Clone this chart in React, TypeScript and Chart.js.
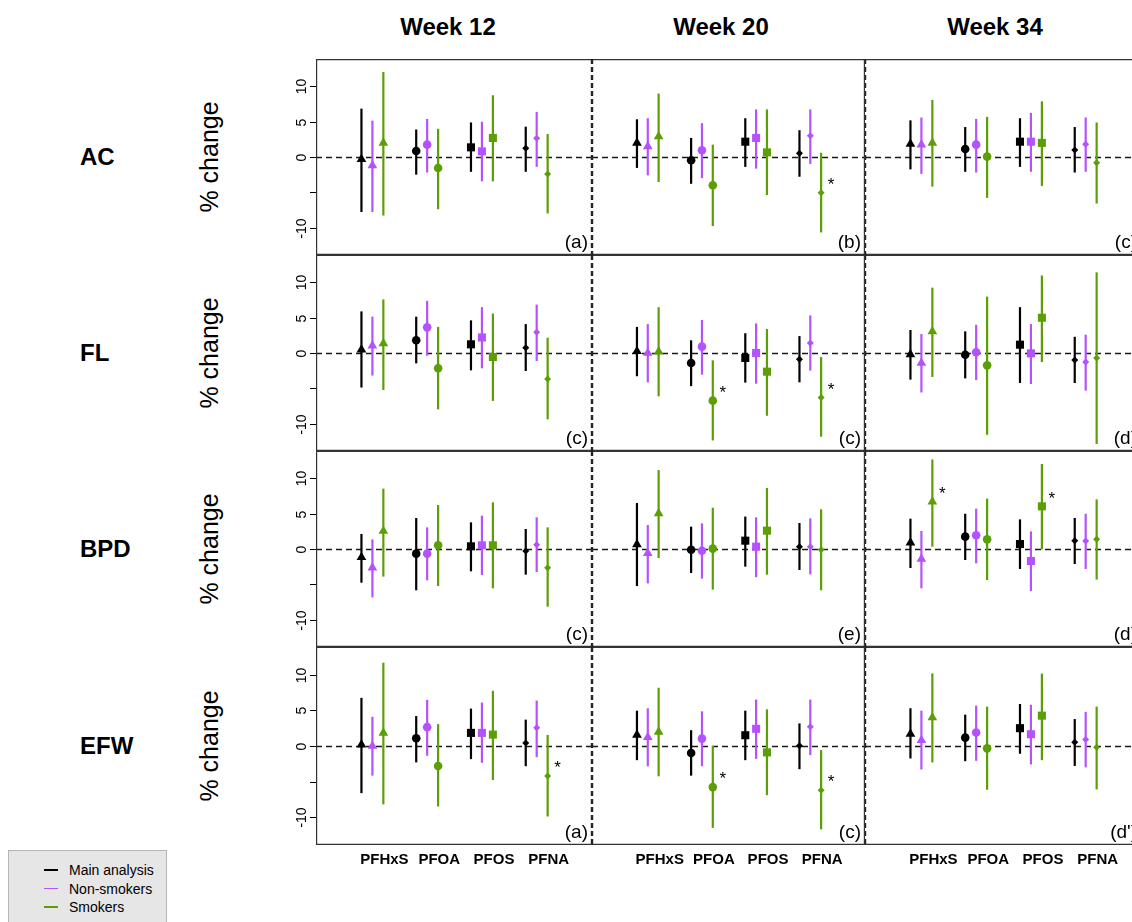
import React, { useEffect, useRef } from "react";
import { Chart, registerables } from "chart.js";

Chart.register(...registerables);

const FONT = '"Liberation Sans", Arial, Helvetica, sans-serif';
Chart.defaults.font.family = FONT;

// ---------------- data ----------------
const weeks = ["Week 12", "Week 20", "Week 34"];
const outcomes = ["AC", "FL", "BPD", "EFW"];
const compounds = ["PFHxS", "PFOA", "PFOS", "PFNA"];
const groupNames = ["Main analysis", "Non-smokers", "Smokers"];
const groupColors = ["#000000", "#b452ff", "#5c9e06"];
const yTickValues = [-10, -5, 0, 5, 10];
const yTickLabels = ["-10", "", "0", "5", "10"];

// [estimate, lower, upper] per compound (PFHxS, PFOA, PFOS, PFNA); one row per week
const AC_main = [
  [[-0.3, -7.8, 6.86], [0.85, -2.5, 3.9], [1.37, -2.1, 4.9], [1.23, -2.1, 4.3]],
  [[2.0, -1.55, 5.35], [-0.47, -3.8, 2.7], [2.17, -1.4, 5.5], [0.52, -2.8, 3.8]],
  [[1.85, -1.75, 5.2], [1.13, -2.1, 4.25], [2.17, -1.4, 5.5], [1.0, -2.2, 4.25]],
];
const AC_nonsmokers = [
  [[-1.2, -7.8, 5.15], [1.75, -2.2, 5.4], [0.8, -3.45, 5.0], [2.65, -1.4, 6.4]],
  [[1.5, -2.6, 5.5], [0.95, -3.0, 4.8], [2.7, -1.65, 6.75], [3.0, -1.0, 6.75]],
  [[1.75, -2.4, 5.6], [1.75, -2.2, 5.4], [2.17, -2.1, 6.25], [1.8, -2.1, 5.6]],
];
const AC_smokers = [
  [[2.0, -8.3, 12.06], [-1.55, -7.4, 4.0], [2.7, -3.45, 8.75], [-2.4, -8.0, 3.26]],
  [[2.9, -3.55, 9.0], [-4.0, -9.8, 1.75], [0.66, -5.4, 6.75], [-5.06, -10.7, 0.6]],
  [[2.0, -4.2, 8.1], [0.05, -5.8, 5.7], [2.0, -4.1, 7.9], [-0.8, -6.6, 4.9]],
];
const AC_sig = [[0, 0, 0, 0], [0, 0, 0, 1], [0, 0, 0, 0]];

const FL_main = [
  [[0.47, -4.9, 5.9], [1.8, -1.47, 5.15], [1.23, -2.46, 4.63], [0.76, -2.55, 4.1]],
  [[0.24, -3.3, 3.7], [-1.42, -4.7, 1.8], [-0.7, -4.2, 2.8], [-0.9, -4.16, 2.4]],
  [[-0.19, -3.78, 3.26], [-0.24, -3.6, 3.07], [1.18, -4.26, 6.5], [-1.0, -4.26, 2.3]],
];
const FL_nonsmokers = [
  [[1.04, -3.2, 5.15], [3.64, -0.38, 7.4], [2.2, -2.17, 6.5], [2.93, -1.13, 6.86]],
  [[0.0, -4.16, 4.1], [0.9, -3.07, 4.68], [0.0, -4.35, 4.2], [1.42, -2.5, 5.34]],
  [[-1.42, -5.6, 2.7], [0.1, -3.83, 4.0], [-0.05, -4.4, 4.1], [-1.28, -5.34, 2.6]],
];
const FL_smokers = [
  [[1.37, -5.25, 7.6], [-2.17, -8.0, 3.7], [-0.57, -6.8, 5.6], [-3.7, -9.4, 2.17]],
  [[0.19, -6.15, 6.5], [-6.76, -12.4, -1.04], [-2.65, -8.9, 3.4], [-6.3, -11.87, -0.57]],
  [[3.07, -3.4, 9.27], [-1.75, -11.6, 8.0], [5.0, -1.28, 11.0], [-0.7, -12.9, 11.44]],
];
const FL_sig = [[0, 0, 0, 0], [0, 1, 0, 1], [0, 0, 0, 0]];

const BPD_main = [
  [[-1.18, -4.78, 2.13], [-0.66, -5.86, 4.4], [0.38, -3.17, 3.78], [-0.28, -3.64, 2.84]],
  [[0.66, -5.25, 6.52], [-0.1, -3.4, 3.17], [1.18, -2.5, 4.6], [0.33, -2.98, 3.69]],
  [[0.9, -2.7, 4.3], [1.75, -1.56, 5.0], [0.7, -2.84, 4.2], [1.18, -2.13, 4.4]],
];
const BPD_nonsmokers = [
  [[-2.65, -6.86, 1.37], [-0.66, -4.44, 3.07], [0.52, -3.7, 4.73], [0.61, -3.26, 4.5]],
  [[-0.61, -4.87, 3.4], [-0.24, -4.2, 3.64], [0.33, -4.0, 4.5], [0.33, -3.6, 4.35]],
  [[-1.42, -5.58, 2.55], [1.94, -2.03, 5.72], [-1.7, -5.96, 2.5], [1.13, -2.84, 5.0]],
];
const BPD_smokers = [
  [[2.55, -3.92, 8.56], [0.52, -5.25, 6.24], [0.52, -5.58, 6.62], [-2.65, -8.18, 3.07]],
  [[5.06, -1.28, 11.2], [0.05, -5.77, 5.86], [2.6, -3.64, 8.65], [-0.1, -5.86, 5.63]],
  [[6.7, 0.33, 12.7], [1.37, -4.4, 7.14], [6.05, -0.05, 12.06], [1.37, -4.35, 7.04]],
];
const BPD_sig = [[0, 0, 0, 0], [0, 0, 0, 0], [1, 0, 1, 0]];

const EFW_main = [
  [[0.19, -6.62, 6.76], [1.09, -2.3, 4.2], [1.84, -1.84, 5.25], [0.43, -2.84, 3.7]],
  [[1.56, -1.99, 4.96], [-0.99, -4.16, 2.22], [1.51, -1.99, 4.96], [0.05, -3.26, 3.17]],
  [[1.7, -1.75, 5.3], [1.18, -2.13, 4.4], [2.5, -1.09, 5.9], [0.52, -2.8, 3.78]],
];
const EFW_nonsmokers = [
  [[0.0, -4.16, 4.1], [2.65, -1.37, 6.48], [1.84, -2.36, 6.1], [2.55, -1.56, 6.38]],
  [[1.23, -2.84, 5.3], [1.04, -2.84, 4.87], [2.41, -1.8, 6.52], [2.7, -1.28, 6.52]],
  [[0.8, -3.3, 4.96], [1.89, -2.08, 5.67], [1.65, -2.6, 5.8], [0.9, -3.0, 4.8]],
];
const EFW_smokers = [
  [[1.84, -8.2, 11.7], [-2.8, -8.5, 3.07], [1.6, -4.78, 7.75], [-4.2, -9.9, 1.56]],
  [[1.99, -4.26, 8.18], [-5.77, -11.5, 0.0], [-0.9, -6.9, 5.15], [-6.2, -11.7, -0.57]],
  [[4.0, -2.3, 10.2], [-0.33, -6.15, 5.53], [4.26, -1.99, 10.17], [-0.19, -6.1, 5.53]],
];
const EFW_sig = [[0, 0, 0, 1], [0, 1, 0, 1], [0, 0, 0, 0]];

const panelTags = [
  ["(a)", "(b)", "(c)"],
  ["(c)", "(c)", "(d)"],
  ["(c)", "(e)", "(d)"],
  ["(a)", "(c)", "(d')"],
];

const outcomeData = [
  [AC_main, AC_nonsmokers, AC_smokers],
  [FL_main, FL_nonsmokers, FL_smokers],
  [BPD_main, BPD_nonsmokers, BPD_smokers],
  [EFW_main, EFW_nonsmokers, EFW_smokers],
];
const outcomeSig = [AC_sig, FL_sig, BPD_sig, EFW_sig];

// ---------------- layout / style ----------------
const colEdges = [316, 592, 865, 1141];
const rowEdges = [59, 255, 451, 647, 845];
const titleX = [448, 721, 995];
const groupOffsets = [-0.2, 0, 0.2];
const labelOffset = 0.22;
const markerStyles = ["triangle", "circle", "rect", "rectRot"];
const markerRadii = [5.6, 4.3, 5.7, 3.5];
const X_MIN = -0.03;
const X_MAX = 5.01;
const Y_MIN = -13.9;
const Y_MAX = 13.9;
const LEFT_PAD = 44;
const BOTTOM_PAD = 32;

function makeDecor(r: number, c: number) {
  const smokers = outcomeData[r][2][c];
  const sig = outcomeSig[r][c];
  return {
    id: "decor",
    beforeDatasetsDraw(chart: any) {
      const { ctx, chartArea: a, scales } = chart;
      const y0 = Math.round(scales.y.getPixelForValue(0)) + 0.5;
      ctx.save();
      ctx.strokeStyle = "#1a1a1a";
      ctx.lineWidth = 1.3;
      ctx.setLineDash([6, 4]);
      ctx.beginPath();
      ctx.moveTo(a.left, y0);
      ctx.lineTo(a.right, y0);
      ctx.stroke();
      ctx.restore();
    },
    afterDatasetsDraw(chart: any) {
      const { ctx, chartArea: a, scales } = chart;
      const xs = scales.x;
      const ys = scales.y;
      ctx.save();
      // frame
      ctx.strokeStyle = "#333333";
      ctx.lineWidth = 1.2;
      ctx.setLineDash([]);
      ctx.beginPath();
      if (r === 0) {
        ctx.moveTo(a.left, a.top + 0.6);
        ctx.lineTo(a.right, a.top + 0.6);
      } else {
        ctx.moveTo(a.left, a.top + 0.3);
        ctx.lineTo(a.right, a.top + 0.3);
      }
      ctx.moveTo(a.left, a.bottom - 0.6);
      ctx.lineTo(a.right, a.bottom - 0.6);
      if (c === 0) {
        ctx.moveTo(a.left + 0.6, a.top);
        ctx.lineTo(a.left + 0.6, a.bottom);
      }
      if (c === 1) {
        ctx.moveTo(a.right - 0.6, a.top);
        ctx.lineTo(a.right - 0.6, a.bottom);
      }
      ctx.stroke();
      ctx.strokeStyle = "#222222";
      ctx.setLineDash([5, 3]);
      ctx.beginPath();
      if (c > 0) {
        ctx.moveTo(a.left + 0.6, a.top);
        ctx.lineTo(a.left + 0.6, a.bottom);
      }
      if (c === 0) {
        ctx.moveTo(a.right - 0.6, a.top);
        ctx.lineTo(a.right - 0.6, a.bottom);
      }
      ctx.stroke();
      ctx.setLineDash([]);

      // significance asterisks (smokers)
      ctx.fillStyle = "#000";
      ctx.font = `17px ${FONT}`;
      ctx.textAlign = "center";
      ctx.textBaseline = "alphabetic";
      sig.forEach((s: number, k: number) => {
        if (!s) return;
        const px = xs.getPixelForValue(k + 1 + groupOffsets[2]);
        const py = ys.getPixelForValue(smokers[k][0]);
        ctx.fillText("*", px + 10, py - 12.5 + 9.8);
      });

      // panel tag
      ctx.font = `19px ${FONT}`;
      ctx.textAlign = "right";
      ctx.fillText(panelTags[r][c], a.right - 4, a.bottom - 7);

      // y axis ticks (left column)
      if (c === 0) {
        ctx.strokeStyle = "#000";
        ctx.lineWidth = 1;
        ctx.font = `14px ${FONT}`;
        ctx.textAlign = "center";
        ctx.textBaseline = "alphabetic";
        yTickValues.forEach((v, i) => {
          const py = Math.round(ys.getPixelForValue(v)) + 0.5;
          ctx.beginPath();
          ctx.moveTo(a.left - 6, py);
          ctx.lineTo(a.left, py);
          ctx.stroke();
          const lab = yTickLabels[i];
          if (lab) {
            ctx.save();
            ctx.translate(a.left - 10, py);
            ctx.rotate(-Math.PI / 2);
            ctx.fillText(lab, 0, 0);
            ctx.restore();
          }
        });
      }

      // x labels (bottom row)
      if (r === outcomes.length - 1) {
        ctx.font = `bold 15px ${FONT}`;
        ctx.textAlign = "center";
        ctx.textBaseline = "middle";
        compounds.forEach((name, k) => {
          const px = xs.getPixelForValue(k + 1 + labelOffset);
          ctx.fillText(name, px, a.bottom + 15);
        });
      }
      ctx.restore();
    },
  };
}

function Panel({ r, c }: { r: number; c: number }) {
  const ref = useRef<HTMLCanvasElement>(null);
  const padL = c === 0 ? LEFT_PAD : 0;
  const padB = r === outcomes.length - 1 ? BOTTOM_PAD : 0;
  const left = colEdges[c] - padL;
  const top = rowEdges[r];
  const width = colEdges[c + 1] - colEdges[c] + padL;
  const height = rowEdges[r + 1] - rowEdges[r] + padB;

  useEffect(() => {
    if (!ref.current) return;
    const groups = outcomeData[r];
    const datasets: any[] = [];
    groups.forEach((g, gi) => {
      datasets.push({
        type: "bar",
        label: groupNames[gi] + " CI",
        data: g[c].map((v, k) => ({ x: k + 1 + groupOffsets[gi], y: [v[1], v[2]] })),
        backgroundColor: groupColors[gi],
        borderWidth: 0,
        grouped: false,
        maxBarThickness: 2.2,
        order: 2,
      });
    });
    groups.forEach((g, gi) => {
      datasets.push({
        type: "scatter",
        label: groupNames[gi],
        data: g[c].map((v, k) => ({ x: k + 1 + groupOffsets[gi], y: v[0] })),
        pointStyle: markerStyles,
        pointRadius: markerRadii,
        pointBackgroundColor: groupColors[gi],
        pointBorderColor: groupColors[gi],
        pointBorderWidth: 0,
        showLine: false,
        order: 1,
      });
    });
    const chart = new Chart(ref.current, {
      type: "bar",
      data: { datasets },
      options: {
        animation: false,
        responsive: false,
        devicePixelRatio: 1,
        events: [],
        layout: { autoPadding: false, padding: { left: padL, right: 0, top: 0, bottom: padB } },
        plugins: { legend: { display: false }, tooltip: { enabled: false } },
        scales: {
          x: { type: "linear", display: false, min: X_MIN, max: X_MAX, offset: false },
          y: { type: "linear", display: false, min: Y_MIN, max: Y_MAX },
        },
      } as any,
      plugins: [makeDecor(r, c)],
    });
    return () => chart.destroy();
  }, [r, c]);

  return (
    <canvas
      ref={ref}
      width={width}
      height={height}
      style={{ position: "absolute", left, top, width, height }}
    />
  );
}

export default function App() {
  const panels: JSX.Element[] = [];
  outcomes.forEach((_, r) => {
    weeks.forEach((__, c) => {
      panels.push(<Panel key={`${r}-${c}`} r={r} c={c} />);
    });
  });
  return (
    <div
      style={{
        position: "fixed",
        left: 0,
        top: 0,
        width: 1132,
        height: 922,
        overflow: "hidden",
        background: "#ffffff",
        fontFamily: FONT,
        color: "#000",
      }}
    >
      {weeks.map((w, c) => (
        <div
          key={w}
          style={{
            position: "absolute",
            left: titleX[c],
            top: 27,
            transform: "translate(-50%, -50%)",
            fontSize: 24,
            fontWeight: "bold",
            lineHeight: 1,
            whiteSpace: "nowrap",
          }}
        >
          {w}
        </div>
      ))}
      {outcomes.map((o, r) => {
        const cy = (rowEdges[r] + rowEdges[r + 1]) / 2;
        return (
          <React.Fragment key={o}>
            <div
              style={{
                position: "absolute",
                left: 80,
                top: cy,
                transform: "translate(0, -50%)",
                fontSize: 24,
                fontWeight: "bold",
                lineHeight: 1,
                whiteSpace: "nowrap",
              }}
            >
              {o}
            </div>
            <div
              style={{
                position: "absolute",
                left: 209,
                top: cy,
                transform: "translate(-50%, -50%) rotate(-90deg)",
                fontSize: 25,
                lineHeight: 1,
                whiteSpace: "nowrap",
              }}
            >
              % change
            </div>
          </React.Fragment>
        );
      })}
      {panels}
      <div
        style={{
          position: "absolute",
          left: 8,
          top: 850,
          width: 157,
          height: 80,
          background: "#e6e6e6",
          border: "1px solid #b5b5b5",
        }}
      >
        {groupNames.map((g, i) => (
          <div
            key={g}
            style={{
              position: "absolute",
              left: 0,
              top: 19 + i * 18.5 - 9,
              height: 18,
              width: 157,
            }}
          >
            <div
              style={{
                position: "absolute",
                left: 35,
                top: 8,
                width: 14,
                height: 1.6,
                background: groupColors[i],
              }}
            />
            <div
              style={{
                position: "absolute",
                left: 60,
                top: 1,
                fontSize: 14,
                lineHeight: "16px",
                whiteSpace: "nowrap",
              }}
            >
              {g}
            </div>
          </div>
        ))}
      </div>
    </div>
  );
}
